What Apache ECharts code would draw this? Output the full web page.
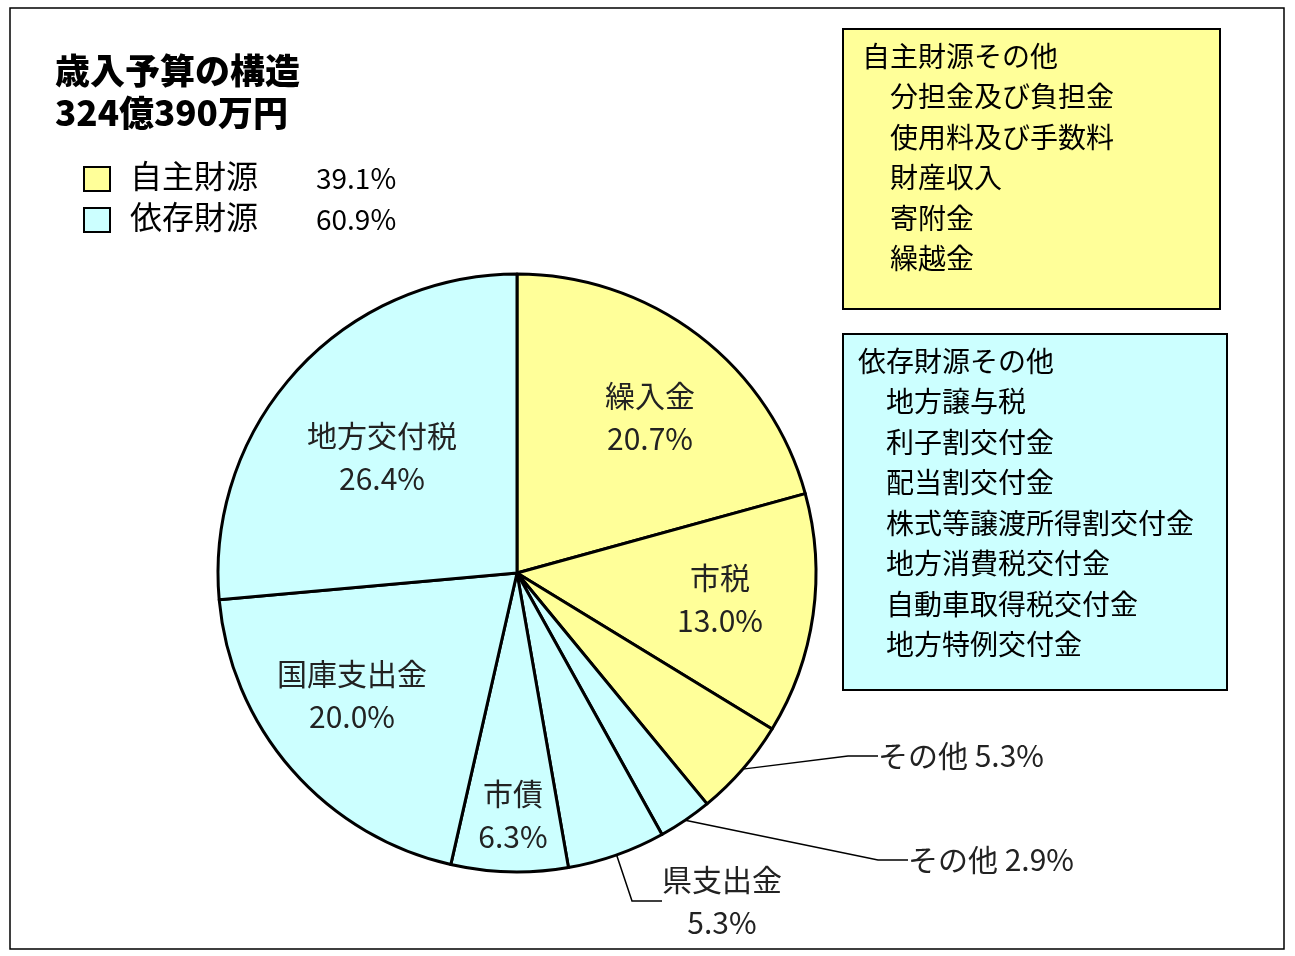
<!DOCTYPE html>
<html><head><meta charset="utf-8">
<script src="https://cdn.jsdelivr.net/npm/echarts@6/dist/echarts.min.js"></script>
<style>html,body{margin:0;background:#fff}#main{width:1295px;height:956px}</style>
</head><body><div id="main"></div>
<script>
const names = ['繰入金', '市税', 'その他', 'その他', '県支出金', '市債', '国庫支出金', '地方交付税']
const values = [20.7, 13.0, 5.3, 2.9, 5.3, 6.3, 20.0, 26.4]
const groups = ['own', 'own', 'own', 'dep', 'dep', 'dep', 'dep', 'dep']
const ownItems = ['分担金及び負担金', '使用料及び手数料', '財産収入', '寄附金', '繰越金']
const depItems = ['地方譲与税', '利子割交付金', '配当割交付金', '株式等譲渡所得割交付金', '地方消費税交付金', '自動車取得税交付金', '地方特例交付金']

const YEL = '#FFFF99', CYA = '#CCFFFF'
const FONT = '"Noto Sans CJK JP", sans-serif'

// label anchors [x, y, align]
const labelPos = {
  0: [650, 417, 'center'], 1: [720, 599, 'center'], 2: [878, 756, 'left'],
  3: [908, 860, 'left'], 4: [722, 901, 'center'], 5: [513, 815, 'center'],
  6: [352, 695, 'center'], 7: [382, 457, 'center']
}
const outside = [2, 3, 4]

const data = values.map((v, i) => {
  const d = { name: names[i], value: v, itemStyle: { color: groups[i] === 'own' ? YEL : CYA } }
  if (outside.includes(i)) {
    d.label = { position: 'outside', formatter: p => i === 4 ? p.name + '\n' + p.value.toFixed(1) + '%' : p.name + ' ' + p.value.toFixed(1) + '%' }
    d.labelLine = { show: true }
  }
  return d
})

const chart = echarts.init(document.getElementById('main'))

const boxText = (title, items) => [title].concat(items.map(s => '　' + s)).join('\n')

chart.setOption({
  animation: false,
  series: [{
    type: 'pie',
    center: [517, 573],
    radius: 299,
    startAngle: 90,
    clockwise: true,
    data,
    itemStyle: { borderColor: '#000', borderWidth: 3 },
    label: {
      position: 'inside', formatter: p => p.name + '\n' + p.value.toFixed(1) + '%', color: '#222',
      fontFamily: FONT, fontSize: 30, lineHeight: 43
    },
    labelLine: { lineStyle: { color: '#000', width: 1.5 }, length: 40, length2: 30 },
    labelLayout: p => {
      const o = labelPos[p.dataIndex]
      return { x: o[0], y: o[1], align: o[2], verticalAlign: 'middle' }
    }
  }],
  graphic: [
    { type: 'rect', shape: { x: 10, y: 8, width: 1274, height: 941 }, style: { fill: 'none', stroke: '#000', lineWidth: 1.5 } },
    { type: 'text', left: 55, top: 50, style: { text: '歳入予算の構造\n324億390万円', font: '900 35px ' + FONT, lineHeight: 42, fill: '#000' } },
    { type: 'rect', shape: { x: 84, y: 167, width: 26, height: 24 }, style: { fill: YEL, stroke: '#000', lineWidth: 2 } },
    { type: 'rect', shape: { x: 84, y: 208, width: 26, height: 24 }, style: { fill: CYA, stroke: '#000', lineWidth: 2 } },
    { type: 'text', left: 130, top: 160, style: { text: '自主財源　', font: '32px ' + FONT, fill: '#000' } },
    { type: 'text', left: 130, top: 201, style: { text: '依存財源　', font: '32px ' + FONT, fill: '#000' } },
    { type: 'text', left: 316, top: 164, style: { text: '39.1%', font: '28px ' + FONT, fill: '#000' } },
    { type: 'text', left: 316, top: 205, style: { text: '60.9%', font: '28px ' + FONT, fill: '#000' } },
    { type: 'rect', shape: { x: 843, y: 29, width: 377, height: 280 }, style: { fill: YEL, stroke: '#000', lineWidth: 2 } },
    { type: 'text', left: 862, top: 36, style: { text: boxText('自主財源その他', ownItems), font: '28px ' + FONT, lineHeight: 40.5, fill: '#000' } },
    { type: 'rect', shape: { x: 843, y: 334, width: 384, height: 356 }, style: { fill: CYA, stroke: '#000', lineWidth: 2 } },
    { type: 'text', left: 858, top: 341, style: { text: boxText('依存財源その他', depItems), font: '28px ' + FONT, lineHeight: 40.5, fill: '#000' } }
  ]
})
</script></body></html>
